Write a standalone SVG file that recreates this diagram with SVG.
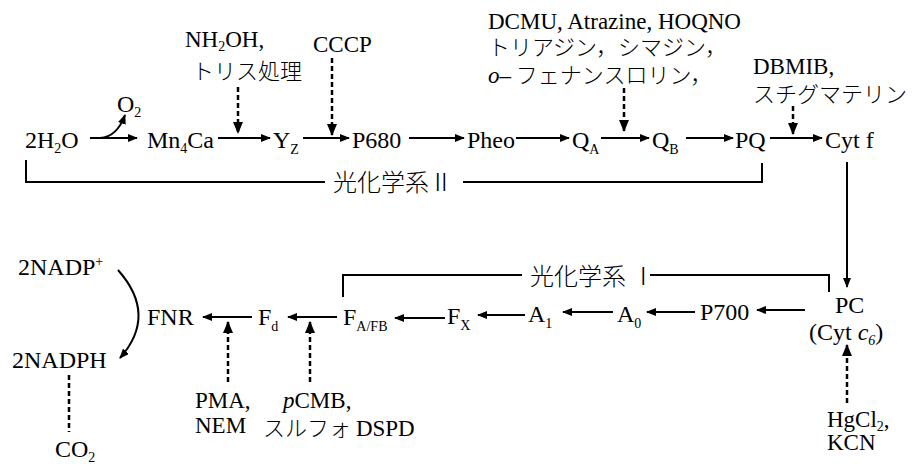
<svg xmlns="http://www.w3.org/2000/svg" width="919" height="467" viewBox="0 0 919 467">
<style>
.n{font-family:"Liberation Serif","Times New Roman",serif;font-size:24px;fill:#000}
.l{font-family:"Liberation Serif","Times New Roman",serif;font-size:23px;fill:#000}
.j{font-family:"Noto Sans CJK JP","Noto Sans CJK SC",sans-serif;font-size:22px;font-weight:300;fill:#000}
.k{font-family:"Noto Sans CJK JP","Noto Sans CJK SC",sans-serif;font-size:24px;font-weight:300;fill:#000}
.r{font-family:"Liberation Serif","Times New Roman",serif;font-size:23px;font-weight:400}
.s{font-size:14px}
.i{font-style:italic}
.a{stroke:#000;stroke-width:2;fill:none}
.d{stroke:#000;stroke-width:2.5;fill:none;stroke-dasharray:5 3}
.b{stroke:#000;stroke-width:2;fill:none}
</style>
<defs>
<marker id="ah" viewBox="0 0 10 8" refX="9" refY="4" markerWidth="10" markerHeight="8" markerUnits="userSpaceOnUse" orient="auto"><path d="M0,0 L10,4 L0,8 z" fill="#000"/></marker>
<marker id="dh" viewBox="0 0 12 10" refX="11" refY="5" markerWidth="12" markerHeight="10" markerUnits="userSpaceOnUse" orient="auto"><path d="M0,0 L12,5 L0,10 z" fill="#000"/></marker>
</defs>

<g id="connectors">
<line class="a" x1="90" y1="138" x2="137" y2="138" marker-end="url(#ah)"/>
<path class="a" d="M100,138 Q117,137 125,115" marker-end="url(#ah)"/>
<line class="a" x1="218" y1="138" x2="270" y2="138" marker-end="url(#ah)"/>
<line class="a" x1="303" y1="138" x2="349" y2="138" marker-end="url(#ah)"/>
<line class="a" x1="409" y1="138" x2="464" y2="138" marker-end="url(#ah)"/>
<line class="a" x1="516" y1="138" x2="569" y2="138" marker-end="url(#ah)"/>
<line class="a" x1="601" y1="138" x2="649" y2="138" marker-end="url(#ah)"/>
<line class="a" x1="686" y1="138" x2="733" y2="138" marker-end="url(#ah)"/>
<line class="a" x1="770" y1="138" x2="822" y2="138" marker-end="url(#ah)"/>
<line class="d" x1="238" y1="87" x2="238" y2="133" marker-end="url(#dh)"/>
<line class="d" x1="332" y1="58" x2="332" y2="135" marker-end="url(#dh)"/>
<line class="d" x1="624" y1="88" x2="624" y2="131" marker-end="url(#dh)"/>
<line class="d" x1="793" y1="106" x2="793" y2="134" marker-end="url(#dh)"/>
<line class="a" x1="847" y1="162" x2="847" y2="287" marker-end="url(#ah)"/>
<line class="a" x1="805" y1="310" x2="757" y2="310" marker-end="url(#ah)"/>
<line class="a" x1="695" y1="312" x2="647" y2="312" marker-end="url(#ah)"/>
<line class="a" x1="613" y1="312" x2="563" y2="312" marker-end="url(#ah)"/>
<line class="a" x1="525" y1="315" x2="478" y2="315" marker-end="url(#ah)"/>
<line class="a" x1="445" y1="318" x2="395" y2="318" marker-end="url(#ah)"/>
<line class="a" x1="337" y1="317" x2="288" y2="317" marker-end="url(#ah)"/>
<line class="a" x1="252" y1="317" x2="203" y2="317" marker-end="url(#ah)"/>
<line class="d" x1="228" y1="382" x2="228" y2="322" marker-end="url(#dh)"/>
<line class="d" x1="310" y1="382" x2="310" y2="322" marker-end="url(#dh)"/>
<line class="d" x1="847" y1="403" x2="847" y2="345" marker-end="url(#dh)"/>
<path class="a" d="M118,270 Q158,315 120,358" marker-end="url(#ah)"/>
<line class="d" x1="69" y1="375" x2="69" y2="432"/>
</g>

<g id="psII">
<path class="b" d="M26,160 V182 H325"/>
<path class="b" d="M463,182 H762 V163"/>
<text class="k" x="333" y="191">光化学系Ⅱ</text>
</g>
<g id="psI">
<path class="b" d="M343,297 V275 H522"/>
<path class="b" d="M650,275 H829 V292"/>
<text class="k" x="530" y="285">光化学系 Ⅰ</text>
</g>

<g id="h2o"><text class="n" x="25" y="148">2H<tspan class="s" dy="5">2</tspan><tspan dy="-5">O</tspan></text></g>
<g id="o2"><text class="n" x="117" y="112">O<tspan class="s" dy="5">2</tspan></text></g>
<g id="mn4ca"><text class="n" x="147" y="148">Mn<tspan class="s" dy="5">4</tspan><tspan dy="-5">Ca</tspan></text></g>
<g id="yz"><text class="n" x="273" y="148">Y<tspan class="s" dy="6">Z</tspan></text></g>
<g id="p680"><text class="n" x="352" y="148">P680</text></g>
<g id="pheo"><text class="n" x="467" y="148">Pheo</text></g>
<g id="qa"><text class="n" x="572" y="148">Q<tspan class="s" dy="6">A</tspan></text></g>
<g id="qb"><text class="n" x="652" y="148">Q<tspan class="s" dy="6">B</tspan></text></g>
<g id="pq"><text class="n" x="735" y="148">PQ</text></g>
<g id="cytf"><text class="n" x="825" y="148">Cyt f</text></g>

<g id="nh2oh">
<text class="l" x="185" y="47">NH<tspan class="s" dy="4">2</tspan><tspan dy="-4">OH,</tspan></text>
<text class="j" x="192" y="79">トリス処理</text>
</g>
<g id="cccp"><text class="l" x="313" y="52">CCCP</text></g>
<g id="dcmu">
<text class="l" x="488" y="29">DCMU, Atrazine, HOQNO</text>
<text class="j" x="488" y="55">トリアジン，シマジン，</text>
<text class="j" x="488" y="83"><tspan class="r i">o</tspan><tspan class="r">–</tspan> フェナンスロリン，</text>
</g>
<g id="dbmib">
<text class="l" x="753" y="74">DBMIB,</text>
<text class="j" x="753" y="102">スチグマテリン</text>
</g>

<g id="pc">
<text class="n" x="835" y="313">PC</text>
<text class="n" x="809" y="340">(Cyt <tspan class="i">c</tspan><tspan class="s i" dy="5">6</tspan><tspan dy="-5">)</tspan></text>
</g>
<g id="p700"><text class="n" x="700" y="320">P700</text></g>
<g id="a0"><text class="n" x="617" y="322">A<tspan class="s" dy="6">0</tspan></text></g>
<g id="a1"><text class="n" x="528" y="322">A<tspan class="s" dy="6">1</tspan></text></g>
<g id="fx"><text class="n" x="447" y="324">F<tspan class="s" dy="6">X</tspan></text></g>
<g id="fafb"><text class="n" x="343" y="325">F<tspan class="s" dy="6">A/FB</tspan></text></g>
<g id="fd"><text class="n" x="258" y="325">F<tspan class="s" dy="6">d</tspan></text></g>
<g id="fnr"><text class="n" x="147" y="325">FNR</text></g>
<g id="nadp"><text class="n" x="18" y="275">2NADP<tspan class="s" dy="-9">+</tspan></text></g>
<g id="nadph"><text class="n" x="12" y="368">2NADPH</text></g>
<g id="co2"><text class="n" x="55" y="457">CO<tspan class="s" dy="5">2</tspan></text></g>

<g id="pma">
<text class="l" x="195" y="408">PMA,</text>
<text class="l" x="195" y="433">NEM</text>
</g>
<g id="pcmb">
<text class="l" x="283" y="408"><tspan class="i">p</tspan>CMB,</text>
<text class="j" x="263" y="436">スルフォ <tspan class="r">DSPD</tspan></text>
</g>
<g id="hgcl2">
<text class="l" x="827" y="427">HgCl<tspan class="s" dy="4">2</tspan><tspan dy="-4">,</tspan></text>
<text class="l" x="827" y="450">KCN</text>
</g>
</svg>
